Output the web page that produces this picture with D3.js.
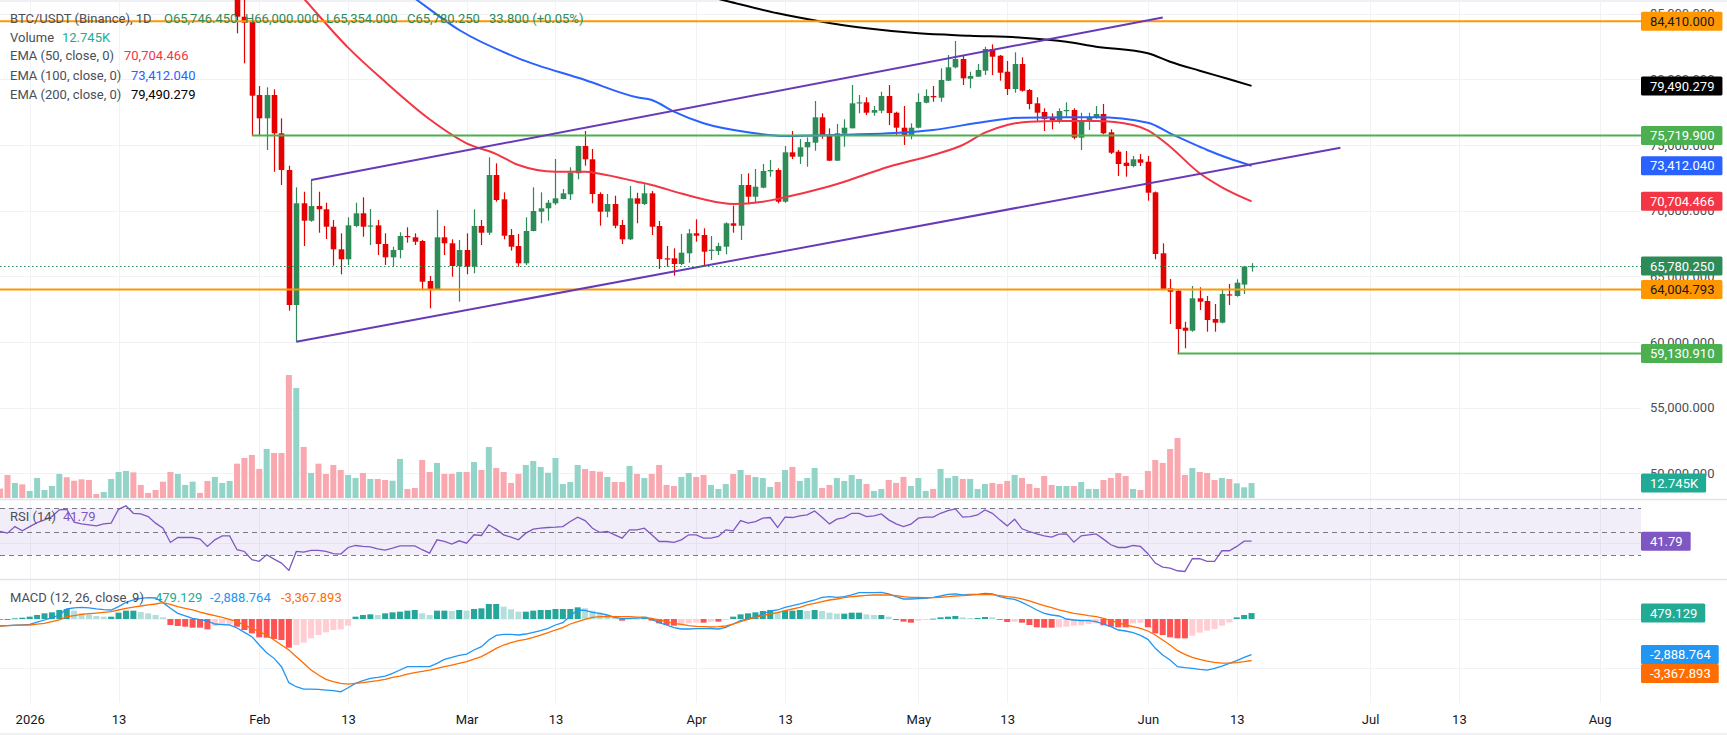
<!DOCTYPE html>
<html><head><meta charset="utf-8">
<script src="https://cdn.jsdelivr.net/npm/d3@7"></script>
<style>
html,body{margin:0;padding:0;background:#fff;overflow:hidden;}
svg{display:block;font-family:Roboto,"Noto Sans",sans-serif;}
</style></head><body>
<svg id="c" width="1727" height="735"></svg>
<script>
// ---------------- DATA (daily candles from 2025-12-28) ----------------
const startDate = "2025-12-28";
const openP = [
 87800,87400,87100,87900,87600,88700,89900,90500,91500,93800,
 93500,91000,90600,90300,90100,90800,91200,94800,95800,94500,
 94300,93800,92600,91500,88900,89600,89700,89800,89500,88300,
 89200,89900,90100,84755,84375,78796,77023,78796,75882,73089,
 62815,70555,69231,70349,70100,68774,67054,66293,68827,69794,
 68850,68880,67457,66445,67001,68066,67967,67686,64642,64011,
 67967,67511,65783,67001,65731,68827,68318,72709,70859,68142,
 67305,65989,68447,69915,70174,70555,70882,71240,72838,74915,
 73903,71262,69915,70502,68905,67816,70935,70502,71316,68827,
 66369,66369,65936,66749,68272,68142,66999,66925,67252,69033,
 68850,71948,71058,71743,72985,73089,70677,74436,74102,74817,
 75167,77100,75730,73797,75856,76262,78165,78241,77450,77602,
 78720,77450,76308,75753,76308,78210,78720,78591,79885,80904,
 81536,80037,80189,80646,82297,81788,80570,79253,81155,79177,
 78165,77503,77100,76841,77632,77655,75548,76818,77100,77350,
 75958,74482,73645,73392,73903,73721,71392,66750,64086,63904,
 61088,60860,63326,63119,61750,61469,63627,63500,64369,65746.45];
const highP = [
 88200,87900,88300,88400,88900,90300,90900,91800,94300,94700,
 93900,91600,91200,90800,91100,91600,95400,96700,96100,95200,
 94900,94100,93000,91900,90000,90300,90200,90100,89800,89400,
 90100,90400,90300,86200,84450,79482,79382,79230,77024,73416,
 71773,71437,72328,71437,70601,69284,68272,69489,70601,71012,
 70121,69284,68272,67252,68348,68729,68272,67762,65022,70045,
 68827,67815,67762,68272,70098,69284,74056,73598,71392,68599,
 68219,69489,71773,71392,70806,73926,71643,73294,74938,76057,
 74687,71392,71262,71133,69284,71870,71362,72000,71491,69208,
 67305,67131,68219,68599,69337,68652,68066,67557,69108,70372,
 72784,72838,73165,73546,73850,73217,74915,76057,75448,75577,
 78340,77404,76262,76589,76947,79558,78796,78622,77960,79048,
 79558,77526,77960,76643,78926,79230,79482,80828,81840,82906,
 81764,80570,81155,82472,82650,81840,81384,82046,81665,79253,
 78622,77785,77404,77785,78241,77785,77450,77450,77960,78112,
 76186,74611,74535,74154,74307,74154,71450,67511,64794,64011,
 61545,64262,64163,63500,62892,63957,64413,64769,65800,66000];
const lowP = [
 87100,86800,86900,87300,87400,88500,89600,90200,91300,93000,
 90700,90200,90000,89700,89900,90400,91000,94300,94100,93900,
 93500,92200,91200,88500,88300,89100,89200,89100,87900,87800,
 88800,89500,83492,81209,75752,75752,74611,72960,71948,62382,
 60023,67305,69150,68318,67838,65806,65152,65859,68729,68013,
 67381,66620,65859,65731,66369,67556,67381,63957,62564,63957,
 66620,64969,63068,65152,65228,67381,68142,70677,67815,66948,
 65731,65859,68424,69033,69231,70425,70859,70806,72381,73416,
 70555,68850,69489,68652,67457,67762,69033,70425,68142,65555,
 65731,65045,65859,66034,67633,65731,66240,66620,66674,68318,
 67762,70555,70555,71697,72579,70555,70600,73929,73546,73341,
 74558,75471,73774,73774,74862,76262,77404,77274,77221,77404,
 76514,75677,74992,75426,76262,78165,78286,78286,79862,80828,
 79558,79307,80189,80319,80319,79885,78796,78971,79050,77708,
 76765,76057,76186,76643,77100,75426,74611,76133,76993,75804,
 74307,72632,72579,73295,73392,70753,66293,63990,61370,59130.91,
 59520,60784,62435,60784,60784,61420,62816,63447,63653,65354];
const closeP = [
 87400,87100,87900,87600,88700,89900,90500,91500,93800,93500,
 91000,90600,90300,90100,90800,91200,94800,95800,94500,94300,
 93800,92600,91500,88900,89600,89700,89800,89500,88300,89200,
 89900,90100,84755,84299,78743,77023,78796,75882,73089,62815,
 70555,69231,70349,70100,68774,67054,66293,68880,69794,68774,
 68870,67457,66445,67001,68066,68013,67633,64589,64011,67967,
 67511,65783,67001,65731,68827,68318,72709,70806,68089,67252,
 65989,68447,69970,70174,70601,70935,71316,72884,74915,73903,
 71262,69915,70502,68850,67816,70935,70524,71316,68774,66316,
 66339,65936,66796,68272,68089,66872,67024,67305,69033,68850,
 71948,71058,71819,73013,73089,70677,74436,74102,74817,75220,
 77100,75677,73797,75882,76308,78165,78241,77450,77655,78720,
 77427,76308,75753,76308,78264,78720,78621,79938,80904,81536,
 80067,80242,80699,82297,81712,80494,79253,81155,79124,78112,
 77450,76970,76894,77579,77655,75548,76818,77145,77350,75882,
 74406,73546,73392,73903,73645,71362,66697,64033,63828,60989,
 60860,63326,63067,61674,61469,63653,63603,64513,65746.45,65780.25];
// volume in thousands of BTC
const volumeK = [
 8.0,19.6,12.8,11.6,6.0,17.0,6.8,10.2,20.4,17.6,
 14.7,15.9,15.3,3.4,5.1,16.2,22.1,23.0,21.8,11.1,
 4.3,6.8,13.9,22.1,20.4,11.1,13.9,4.3,14.5,17.9,
 12.8,14.5,29.2,34.0,36.6,24.7,41.7,38.3,38.3,104.6,
 93.5,43.4,21.3,29.2,20.4,28.1,23.8,19.6,17.0,21.3,
 16.2,16.2,15.3,14.7,33.2,7.7,8.5,32.3,22.1,29.8,
 20.4,20.4,22.1,22.1,30.6,23.8,43.4,25.5,22.1,12.8,
 20.4,28.1,31.5,26.4,21.5,34.0,11.9,13.6,28.1,24.7,
 23.0,22.4,17.9,13.6,13.6,27.2,20.4,17.0,20.4,28.1,
 11.1,10.2,17.9,21.3,17.9,19.6,11.1,7.7,11.9,20.4,
 23.8,19.6,17.9,17.0,9.4,13.6,23.8,26.4,14.5,17.0,
 25.5,8.5,11.1,17.0,14.5,19.6,16.2,11.9,6.0,7.7,
 15.3,12.8,17.9,10.2,17.0,6.0,7.7,24.7,17.0,18.7,
 16.2,16.2,7.7,11.9,12.8,11.9,14.5,19.6,17.0,11.9,
 8.5,18.7,11.1,10.2,10.2,10.2,13.6,7.7,7.7,15.3,
 17.0,21.3,18.7,7.7,6.8,23.0,32.3,29.8,41.7,51.0,
 19.6,25.5,22.1,21.3,15.3,17.0,16.2,12.5,9.1,12.745];
const rsi14 = [
 50.0,48.6,54.2,50.6,54.2,57.6,59.9,62.7,68.4,68.9,
 57.9,56.5,55.7,54.8,56.5,57.1,68.9,71.8,65.5,65.0,
 62.7,57.1,52.8,40.7,44.9,44.9,44.9,43.5,37.3,42.9,
 46.3,46.3,34.5,33.0,26.0,24.6,30.2,26.5,23.1,16.9,
 33.0,32.5,33.9,33.9,33.0,31.1,30.8,36.4,38.1,37.3,
 37.0,35.3,34.2,35.9,37.8,37.8,37.8,34.5,31.6,42.9,
 41.5,39.3,42.1,40.1,47.2,46.6,55.7,52.0,47.2,45.2,
 42.9,48.6,52.0,52.8,53.4,53.7,54.2,58.5,62.2,59.3,
 52.8,49.2,50.0,47.2,44.3,51.4,51.4,52.8,47.2,41.5,
 41.5,40.7,42.9,47.2,47.2,44.3,44.3,45.8,51.4,50.6,
 59.3,57.1,58.5,61.3,61.9,53.4,62.2,61.9,63.3,64.1,
 67.5,62.2,56.5,60.5,61.9,65.5,65.5,62.7,63.3,65.0,
 59.9,56.5,54.2,56.2,61.3,62.2,62.2,65.5,67.8,69.2,
 62.2,62.7,64.1,68.4,65.5,59.9,54.8,60.5,52.3,50.0,
 48.0,46.3,45.2,47.7,48.0,40.9,46.3,47.2,48.0,43.5,
 38.7,36.4,36.4,38.1,37.3,31.1,23.1,19.7,18.9,16.6,
 16.0,26.8,26.8,24.6,24.6,33.6,33.6,37.3,41.8,41.79];
const macdLine = [
 -568,-540,-500,-470,-433,-260,-81,120,325,812,
 900,947,900,820,760,731,1001,1353,1542,1678,
 1732,1705,1326,866,460,250,54,-50,-162,-406,
 -450,-487,-731,-1082,-1434,-2111,-2733,-3193,-3870,-5168,
 -5493,-5683,-5683,-5710,-5764,-5818,-5899,-5574,-5223,-5006,
 -4817,-4736,-4627,-4411,-4140,-3870,-3870,-3870,-3870,-3599,
 -3274,-3112,-2950,-2841,-2517,-2246,-1705,-1326,-1245,-1245,
 -1299,-1218,-1082,-947,-758,-487,-298,250,731,700,
 541,460,325,135,27,54,80,108,-27,-298,
 -487,-704,-812,-812,-785,-785,-785,-812,-676,-406,
 -135,0,189,406,650,731,947,1082,1218,1380,
 1542,1759,1813,1759,1813,1948,2138,2138,2138,2165,
 2030,1813,1624,1624,1651,1678,1759,1867,2002,2030,
 1948,2002,2002,2084,2030,1813,1678,1597,1353,1055,
 731,460,325,244,0,-81,-135,-135,-216,-406,
 -622,-893,-974,-1109,-1326,-1651,-2381,-2922,-3328,-3870,
 -3951,-4005,-4086,-4140,-4005,-3815,-3599,-3383,-3112,-2888.764];
const signalLine = [
 -568,-545,-525,-505,-487,-420,-352,-220,-81,189,
 280,379,430,480,540,595,730,866,960,1055,
 1140,1218,1326,1191,1001,870,731,560,406,270,
 135,-40,-216,-490,-758,-1030,-1299,-1700,-2111,-2517,
 -3058,-3599,-4140,-4546,-4898,-5087,-5223,-5277,-5223,-5168,
 -5087,-5006,-4898,-4736,-4627,-4465,-4357,-4248,-4140,-4005,
 -3870,-3734,-3599,-3464,-3247,-3058,-2733,-2381,-2111,-1921,
 -1759,-1651,-1488,-1299,-1109,-893,-704,-406,-216,-27,
 135,189,189,189,189,189,160,135,54,-81,
 -216,-352,-433,-541,-595,-622,-649,-622,-568,-406,
 -216,-27,135,271,406,514,677,812,947,1137,
 1272,1407,1542,1624,1732,1813,1867,1921,1948,1948,
 1948,1894,1813,1759,1759,1732,1732,1759,1813,1867,
 1894,1948,1975,2002,1975,1894,1813,1759,1624,1461,
 1272,1082,920,731,595,460,379,271,189,54,
 -135,-298,-487,-622,-758,-974,-1299,-1705,-2111,-2571,
 -2868,-3112,-3274,-3410,-3518,-3572,-3572,-3545,-3464,-3367.893];
const macdHist = [
 -50,-81,54,108,189,325,460,541,731,812,
 677,460,379,244,189,189,514,677,677,568,
 460,325,135,-487,-568,-622,-704,-704,-839,-568,
 -487,-400,-622,-893,-1164,-1488,-1520,-1623,-1704,-2327,
 -2111,-1921,-1569,-1299,-1082,-893,-839,-541,189,325,
 379,325,460,541,595,677,731,460,325,677,
 677,650,731,677,812,866,1217,1217,1001,785,
 595,595,677,731,731,812,812,812,947,866,
 677,514,325,189,-135,-60,-30,189,-135,-352,
 -487,-541,-510,-352,-298,-298,-216,-216,-81,189,
 379,460,541,650,731,595,677,677,731,650,
 731,650,514,433,433,514,514,379,325,325,
 189,-81,-216,-298,-135,-81,27,135,189,244,
 135,81,81,162,135,-54,-244,-216,-298,-487,
 -676,-704,-704,-676,-622,-541,-514,-406,-352,-514,
 -622,-676,-676,-352,-298,-676,-1164,-1299,-1488,-1569,
 -1570,-1353,-1109,-947,-812,-541,-271,135,325,479.129];
// moving averages
const ema50 = [["2026-02-03",88680],["2026-02-07",86150],["2026-02-13",82400],["2026-02-18",79800],["2026-02-24",76950],["2026-03-01",75121],["2026-03-05",74300],["2026-03-08",73470],["2026-03-13",72960],["2026-03-17",72960],["2026-03-19",72800],["2026-03-24",72200],["2026-03-26",71948],["2026-03-30",71300],["2026-04-02",70860],["2026-04-06",70502],["2026-04-10",70677],["2026-04-13",71012],["2026-04-18",71697],["2026-04-21",72199],["2026-04-27",73341],["2026-05-03",74231],["2026-05-07",74992],["2026-05-10",75928],["2026-05-13",76514],["2026-05-16",76765],["2026-05-20",76818],["2026-05-25",76818],["2026-05-30",76514],["2026-06-01",76100],["2026-06-04",74862],["2026-06-08",72838],["2026-06-11",71773],["2026-06-15",70704.466]];
const ema100 = [["2026-02-18",87720],["2026-02-22",86150],["2026-02-28",83743],["2026-03-08",81590],["2026-03-17",79938],["2026-03-24",78622],["2026-03-26",78416],["2026-03-29",77526],["2026-04-02",76643],["2026-04-08",75958],["2026-04-13",75677],["2026-04-20",75753],["2026-04-27",75882],["2026-05-03",76133],["2026-05-10",76765],["2026-05-15",77070],["2026-05-21",77100],["2026-05-25",77100],["2026-06-01",76689],["2026-06-04",75882],["2026-06-08",74862],["2026-06-09",74611],["2026-06-12",73964],["2026-06-15",73412.04]];
const ema200 = [["2026-03-30",86800],["2026-04-05",85970],["2026-04-12",85014],["2026-04-18",84375],["2026-04-24",83873],["2026-05-01",83492],["2026-05-08",83310],["2026-05-15",83157],["2026-05-21",82853],["2026-05-25",82473],["2026-06-01",81971],["2026-06-04",81331],["2026-06-08",80646],["2026-06-12",79992],["2026-06-15",79490.279]];
// drawings
const channelUpper = [["2026-02-08",72330],["2026-06-03",84700]];
const channelLower = [["2026-02-06",60023],["2026-06-27",74786]];
const levelPrices = [84410, 75719.9, 64004.793, 59130.91];
const levelStarts = [null, "2026-01-31", null, "2026-06-05"];
// axes
const priceTicks = [50000,55000,60000,65000,70000,75000,80000,85000];
const timeTickDates = ["2026-01-01","2026-01-13","2026-02-01","2026-02-13","2026-03-01","2026-03-13","2026-04-01","2026-04-13","2026-05-01","2026-05-13","2026-06-01","2026-06-13","2026-07-01","2026-07-13","2026-08-01"];
const timeTickLabels = ["2026","13","Feb","13","Mar","13","Apr","13","May","13","Jun","13","Jul","13","Aug"];
const lastO = 65746.45, lastH = 66000, lastL = 65354, lastC = 65780.25;
const lastChange = "33.800 (+0.05%)";
const lastVolume = "12.745K";
const rsiLast = 41.79;

// ---------------- STYLE ----------------
const UP = "#2e8b57", DN = "#e60000";
const VOL_UP = "#92d4c8", VOL_DN = "#f8a8ae";
const GRID = "#f0f2f6";
const levelColors = ["#ff9800","#4caf50","#ff9800","#4caf50"];
const PLOT_R = 1641;

const parse = d3.utcParse("%Y-%m-%d");
const start = parse(startDate);
const dates = openP.map((_, i) => d3.utcDay.offset(start, i));
const candles = dates.map((d, i) => ({d, o: openP[i], h: highP[i], l: lowP[i], c: closeP[i], v: volumeK[i], rsi: rsi14[i], m: macdLine[i], s: signalLine[i], hist: macdHist[i]}));

const x = d3.scaleUtc().domain([parse("2026-01-01"), parse("2026-08-01")]).range([29.7, 1599.6]);
const y = d3.scaleLinear().domain([60000, 85000]).range([342, 13.5]);
const yVol = d3.scaleLinear().domain([0, 104.6]).range([498, 375]);
const yRsi = d3.scaleLinear().domain([30, 70]).range([555, 508]);
const yMacd = d3.scaleLinear().domain([-4000, 0]).range([668.3, 619]);

const svg = d3.select("#c");
const defs = svg.append("defs");
function clip(id, yy, h) { defs.append("clipPath").attr("id", id).append("rect").attr("x", 0).attr("y", yy).attr("width", PLOT_R).attr("height", h); }
clip("cMain", 0, 499); clip("cRsi", 500, 79); clip("cMacd", 580, 123);

svg.append("rect").attr("width", 1727).attr("height", 735).attr("fill", "#fff");
svg.append("rect").attr("width", 1727).attr("height", 2).attr("fill", "#eef0f4");
svg.append("rect").attr("y", 733).attr("width", 1727).attr("height", 2).attr("fill", "#eef0f4");

// grid
const grid = svg.append("g");
grid.selectAll(".vg").data(timeTickDates.map(parse)).join("line")
  .attr("x1", d => Math.round(x(d)) + 0.5).attr("x2", d => Math.round(x(d)) + 0.5)
  .attr("y1", 0).attr("y2", 703).attr("stroke", GRID);
grid.selectAll(".hg").data(priceTicks).join("line")
  .attr("x1", 0).attr("x2", PLOT_R).attr("y1", d => Math.round(y(d)) + 0.5).attr("y2", d => Math.round(y(d)) + 0.5).attr("stroke", GRID);

// ---- main pane ----
const main = svg.append("g").attr("clip-path", "url(#cMain)");
const bw = 6;
main.selectAll(".vol").data(candles).join("rect")
  .attr("x", d => x(d.d) - bw / 2).attr("width", bw)
  .attr("y", d => yVol(d.v)).attr("height", d => yVol(0) - yVol(d.v))
  .attr("fill", d => d.c >= d.o ? VOL_UP : VOL_DN);

const cw = 5.6;
const cg = main.append("g");
cg.selectAll(".wick").data(candles).join("line")
  .attr("x1", d => Math.round(x(d.d)) + 0.5).attr("x2", d => Math.round(x(d.d)) + 0.5)
  .attr("y1", d => y(d.h)).attr("y2", d => y(d.l))
  .attr("stroke", d => d.c >= d.o ? UP : DN).attr("stroke-width", 1.2);
cg.selectAll(".body").data(candles).join("rect")
  .attr("x", d => Math.round(x(d.d)) + 0.5 - cw / 2).attr("width", cw)
  .attr("y", d => y(Math.max(d.o, d.c)))
  .attr("height", d => Math.max(1.2, Math.abs(y(d.o) - y(d.c))))
  .attr("fill", d => d.c >= d.o ? UP : DN);

const lineP = d3.line().x(d => x(parse(d[0]))).y(d => y(d[1])).curve(d3.curveMonotoneX);
main.append("path").attr("d", lineP(ema200)).attr("fill", "none").attr("stroke", "#000").attr("stroke-width", 2);
main.append("path").attr("d", lineP(ema100)).attr("fill", "none").attr("stroke", "#2962ff").attr("stroke-width", 2);
main.append("path").attr("d", lineP(ema50)).attr("fill", "none").attr("stroke", "#f23645").attr("stroke-width", 2);

// drawings
const lineS = d3.line().x(d => x(parse(d[0]))).y(d => y(d[1]));
levelPrices.forEach((p, i) => {
  main.append("line").attr("x1", levelStarts[i] ? x(parse(levelStarts[i])) : 0).attr("x2", PLOT_R)
    .attr("y1", y(p)).attr("y2", y(p)).attr("stroke", levelColors[i]).attr("stroke-width", 2);
});
main.append("path").attr("d", lineS(channelUpper)).attr("stroke", "#673ab7").attr("stroke-width", 2).attr("fill", "none");
main.append("path").attr("d", lineS(channelLower)).attr("stroke", "#673ab7").attr("stroke-width", 2).attr("fill", "none");
main.append("line").attr("x1", 0).attr("x2", PLOT_R).attr("y1", Math.round(y(lastC)) + 0.5).attr("y2", Math.round(y(lastC)) + 0.5)
  .attr("stroke", UP).attr("stroke-dasharray", "1.5,2.5");

// ---- RSI pane ----
const rp = svg.append("g").attr("clip-path", "url(#cRsi)");
rp.append("rect").attr("x", 0).attr("width", PLOT_R).attr("y", yRsi(70)).attr("height", yRsi(30) - yRsi(70)).attr("fill", "rgba(126,87,194,0.1)");
rp.append("line").attr("x1", 0).attr("x2", PLOT_R).attr("y1", Math.round(yRsi(40)) + 0.5).attr("y2", Math.round(yRsi(40)) + 0.5).attr("stroke", "#e6e2ef");
[70, 50, 30].forEach(v => rp.append("line").attr("x1", 0).attr("x2", PLOT_R).attr("y1", Math.round(yRsi(v)) + 0.5).attr("y2", Math.round(yRsi(v)) + 0.5)
  .attr("stroke", "#787b86").attr("stroke-dasharray", "5,4"));
rp.append("path").attr("d", d3.line().x(d => x(d.d)).y(d => yRsi(d.rsi))(candles)).attr("fill", "none").attr("stroke", "#7e57c2").attr("stroke-width", 1.3);

// ---- MACD pane ----
const mp = svg.append("g").attr("clip-path", "url(#cMacd)");
[0, -4000].forEach(v => mp.append("line").attr("x1", 0).attr("x2", PLOT_R).attr("y1", Math.round(yMacd(v)) + 0.5).attr("y2", Math.round(yMacd(v)) + 0.5).attr("stroke", GRID));
mp.selectAll(".hist").data(candles).join("rect")
  .attr("x", d => x(d.d) - bw / 2).attr("width", bw)
  .attr("y", d => Math.min(yMacd(d.hist), yMacd(0))).attr("height", d => Math.max(0.8, Math.abs(yMacd(d.hist) - yMacd(0))))
  .attr("fill", (d, i) => {
    const prev = i > 0 ? candles[i - 1].hist : d.hist;
    if (d.hist >= 0) return d.hist >= prev ? "#26a69a" : "#b2dfdb";
    return d.hist <= prev ? "#ff5252" : "#ffcdd2";
  });
mp.append("path").attr("d", d3.line().x(d => x(d.d)).y(d => yMacd(d.m))(candles)).attr("fill", "none").attr("stroke", "#2196f3").attr("stroke-width", 1.3);
mp.append("path").attr("d", d3.line().x(d => x(d.d)).y(d => yMacd(d.s))(candles)).attr("fill", "none").attr("stroke", "#ff6d00").attr("stroke-width", 1.3);

// separators
[499.5, 579.5].forEach(v => svg.append("line").attr("x1", 0).attr("x2", 1727).attr("y1", v).attr("y2", v).attr("stroke", "#e0e3eb").attr("stroke-width", 1.5));

// axes
const tAxis = svg.append("g").attr("transform", "translate(0,703)")
  .call(d3.axisBottom(x).tickValues(timeTickDates.map(parse)).tickFormat((d, i) => timeTickLabels[i]).tickSize(0).tickPadding(12));
tAxis.select(".domain").remove();
tAxis.selectAll("text").attr("fill", "#131722").style("font-size", "13px").style("font-family", "Roboto");
const pAxis = svg.append("g").attr("transform", `translate(${PLOT_R},0)`)
  .call(d3.axisRight(y).tickValues(priceTicks).tickFormat(d3.format(",.3f")).tickSize(0).tickPadding(9));
pAxis.select(".domain").remove();
pAxis.selectAll("text").attr("fill", "#4a4e59").style("font-size", "13px").style("font-family", "Roboto");

// value tags on the right
const f3raw = d3.format(",.3f");
const f3 = v => f3raw(v).replace("\u2212", "-");
function tags(list) {
  list.sort((a, b) => a.y - b.y);
  let prev = -1e9;
  list.forEach(t => {
    let yc = Math.max(t.y, prev + 19);
    prev = yc;
    const g = svg.append("g");
    const tx = g.append("text").attr("x", PLOT_R + 9).attr("y", yc).attr("dy", "0.36em").text(t.text)
      .attr("fill", t.fg || "#fff").style("font-size", "13px");
    const w = tx.node().getComputedTextLength();
    g.insert("rect", "text").attr("x", PLOT_R).attr("y", yc - 9.5).attr("width", w + 17).attr("height", 19).attr("rx", 1.5).attr("fill", t.bg);
  });
}
tags([
  {y: y(levelPrices[0]), text: f3(levelPrices[0]), bg: "#ff9800", fg: "#131722"},
  {y: y(ema200[ema200.length - 1][1]), text: f3(ema200[ema200.length - 1][1]), bg: "#000"},
  {y: y(levelPrices[1]), text: f3(levelPrices[1]), bg: "#4caf50"},
  {y: y(ema100[ema100.length - 1][1]), text: f3(ema100[ema100.length - 1][1]), bg: "#2962ff"},
  {y: y(ema50[ema50.length - 1][1]), text: f3(ema50[ema50.length - 1][1]), bg: "#f23645"},
  {y: y(lastC), text: f3(lastC), bg: UP},
  {y: y(levelPrices[2]), text: f3(levelPrices[2]), bg: "#ff9800", fg: "#131722"},
  {y: y(levelPrices[3]), text: f3(levelPrices[3]), bg: "#4caf50"}
]);
tags([{y: yVol(volumeK[volumeK.length - 1]), text: lastVolume, bg: "#22ab94"}]);
tags([{y: yRsi(rsiLast), text: d3.format(".2f")(rsiLast), bg: "#7e57c2"}]);
tags([
  {y: yMacd(macdHist[macdHist.length - 1]), text: f3(macdHist[macdHist.length - 1]), bg: "#22ab94"},
  {y: yMacd(macdLine[macdLine.length - 1]), text: f3(macdLine[macdLine.length - 1]), bg: "#2196f3"},
  {y: yMacd(signalLine[signalLine.length - 1]), text: f3(signalLine[signalLine.length - 1]), bg: "#ff6d00"}
]);

// legends
function leg(xx, yy, text, color) {
  svg.append("text").attr("x", xx).attr("y", yy).attr("dy", "0.36em").text(text).attr("fill", color).style("font-size", "13px");
}
const TXT = "#4a4e59";
leg(10, 18.5, "BTC/USDT (Binance), 1D", TXT);
leg(164, 18.5, "O" + f3(lastO), UP);
leg(245, 18.5, "H" + f3(lastH), UP);
leg(326, 18.5, "L" + f3(lastL), UP);
leg(407, 18.5, "C" + f3(lastC), UP);
leg(489, 18.5, lastChange, UP);
leg(10, 37, "Volume", TXT); leg(62, 37, lastVolume, "#22ab94");
leg(10, 55.5, "EMA (50, close, 0)", TXT); leg(124, 55.5, f3(ema50[ema50.length - 1][1]), "#f23645");
leg(10, 75, "EMA (100, close, 0)", TXT); leg(131, 75, f3(ema100[ema100.length - 1][1]), "#2962ff");
leg(10, 94, "EMA (200, close, 0)", TXT); leg(131, 94, f3(ema200[ema200.length - 1][1]), "#000");
leg(10, 516, "RSI (14)", TXT); leg(63, 516, d3.format(".2f")(rsiLast), "#7e57c2");
leg(10, 597, "MACD (12, 26, close, 9)", TXT);
leg(155, 597, f3(macdHist[macdHist.length - 1]), "#22ab94");
leg(210, 597, f3(macdLine[macdLine.length - 1]), "#2196f3");
leg(281, 597, f3(signalLine[signalLine.length - 1]), "#ff6d00");
</script>
</body></html>
